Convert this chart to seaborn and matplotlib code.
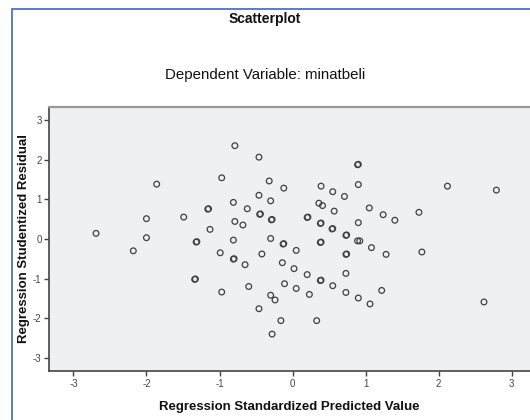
import matplotlib.pyplot as plt
import matplotlib.patches as patches
import seaborn as sns
import pandas as pd

# values (overlapping pairs appear twice)
pred = [-2.69, -1.86, -2.00, -2.00, -2.18,
        -0.79, -0.46, -0.97, -0.32, -0.12, 0.39, 0.55, 0.71, -0.46, -0.30,
        -0.81, 0.36, 0.41, -0.62, -1.16, -1.15, 0.57, -0.45, -0.44, -1.49,
        0.20, 0.21, -0.29, -0.28, -0.79, -0.68, 0.38, 0.39, 0.54, 0.55,
        -1.13, 0.73, 0.74, -1.32, -1.31, -0.81, -0.30, -0.13, -0.12, 0.38,
        0.39, 0.05, -0.99, -0.42, 0.73, 0.74, -0.81, -0.80, -0.65, -0.14,
        0.02, 0.20, 0.73, -1.34, -1.33, 0.38, 0.39, -0.97, -0.60, -0.11,
        0.05, 0.55, 0.23, 0.73, -0.30, -0.24, -0.46, -0.16, 0.33, -0.28,
        0.89, 0.90, 0.90, 2.12, 2.79, 1.05, 1.24, 1.40, 1.73, 0.90,
        0.89, 0.92, 1.08, 1.28, 1.77, 0.90, 1.06, 1.22, 2.62]
resid = [0.14, 1.38, 0.51, 0.03, -0.30,
         2.35, 2.06, 1.54, 1.46, 1.28, 1.33, 1.19, 1.07, 1.10, 0.96,
         0.92, 0.90, 0.84, 0.76, 0.75, 0.76, 0.70, 0.62, 0.63, 0.55,
         0.54, 0.55, 0.48, 0.49, 0.44, 0.35, 0.39, 0.40, 0.25, 0.26,
         0.24, 0.09, 0.10, -0.08, -0.07, -0.03, 0.01, -0.13, -0.12, -0.09,
         -0.08, -0.29, -0.35, -0.38, -0.39, -0.38, -0.51, -0.50, -0.65, -0.60,
         -0.75, -0.90, -0.87, -1.02, -1.01, -1.05, -1.04, -1.34, -1.20, -1.13,
         -1.25, -1.18, -1.40, -1.35, -1.42, -1.54, -1.76, -2.06, -2.06, -2.40,
         1.87, 1.88, 1.37, 1.33, 1.23, 0.78, 0.61, 0.47, 0.67, 0.41,
         -0.05, -0.05, -0.22, -0.39, -0.33, -1.49, -1.64, -1.30, -1.59]
ticks = [-3, -2, -1, 0, 1, 2, 3]

df = pd.DataFrame({'pred': pred, 'resid': resid})

sns.set_style('white')
plt.rcParams['font.family'] = ['Liberation Sans', 'DejaVu Sans']

fig = plt.figure(figsize=(5.3, 4.2), dpi=100)
ax = fig.add_axes([0.093, 0.1167, 0.907, 0.629])
ax.set_facecolor('#eff0f2')

sns.scatterplot(data=df, x='pred', y='resid', ax=ax, s=17, marker='o',
                facecolors='none', edgecolor='#404040', linewidth=0.9)

ax.set_xlim(-3.33, 3.25)
ax.set_ylim(-3.33, 3.33)
ax.set_xticks(ticks)
ax.set_yticks(ticks)
ax.set_xticklabels([str(t) for t in ticks])
ax.set_yticklabels([str(t) for t in ticks])
ax.tick_params(axis='both', direction='out', length=3.5, width=1.0,
               color='#444444', labelsize=7, labelcolor='#444444', pad=2,
               left=True, bottom=True)

for side in ['left', 'bottom']:
    ax.spines[side].set_color('#444444')
    ax.spines[side].set_linewidth(1.2)
ax.spines['top'].set_color('#999999')
ax.spines['top'].set_linewidth(1.6)
ax.spines['right'].set_visible(False)

ax.set_xlabel('Regression Standardized Predicted Value', fontsize=9.5,
              fontweight='bold', color='#111111', labelpad=9)
ax.set_ylabel('Regression Studentized Residual', fontsize=9.5,
              fontweight='bold', color='#111111', labelpad=2)

fig.text(0.5, 1 - 19 / 420, 'Scatterplot', ha='center', va='center',
         fontsize=10, fontweight='bold', color='#111111')
fig.text(0.5, 1 - 75 / 420, 'Dependent Variable: minatbeli', ha='center',
         va='center', fontsize=10.8, color='#111111')

# blue frame of the output viewer, cut off at right and bottom
frame = patches.Rectangle((11.7 / 530, -0.1), 1.2, 1 - 9.3 / 420 + 0.1,
                          transform=fig.transFigure, fill=False,
                          edgecolor='#4a72c4', linewidth=1.3, clip_on=False)
fig.patches.append(frame)

fig.savefig('out.png', dpi=100)
